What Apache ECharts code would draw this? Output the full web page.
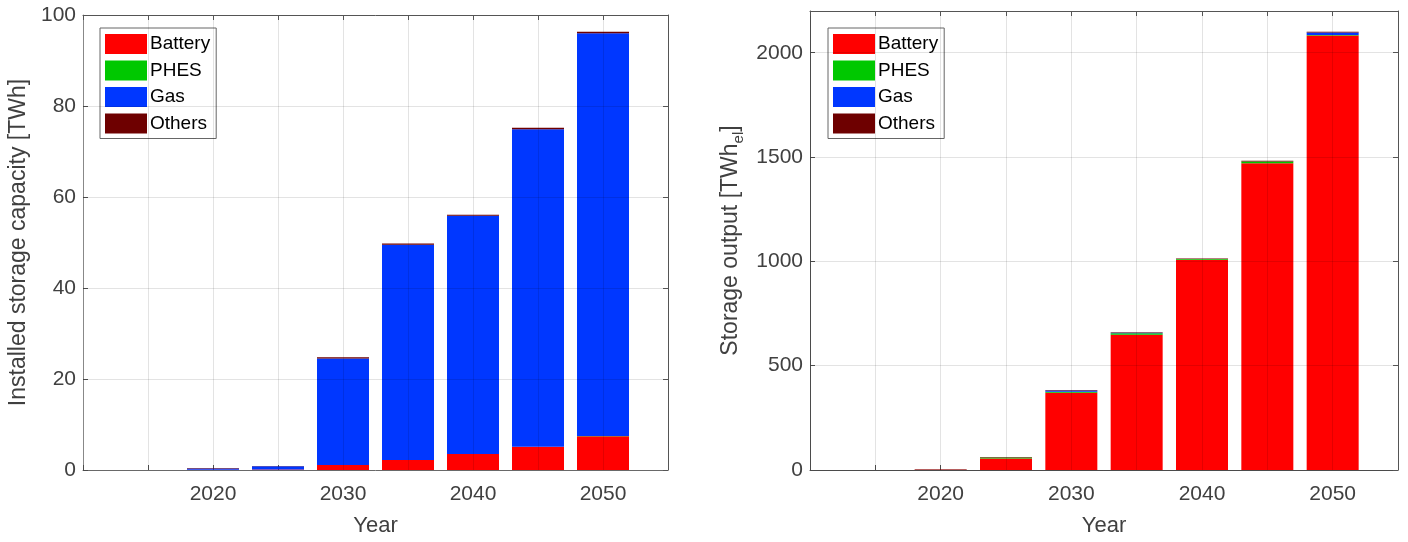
<!DOCTYPE html>
<html>
<head>
<meta charset="utf-8">
<script src="https://cdn.jsdelivr.net/npm/echarts@6/dist/echarts.min.js"></script>
<style>
  html, body { margin: 0; padding: 0; background: #fff; }
  #chart { width: 1408px; height: 542px; }
</style>
</head>
<body>
<div id="chart"></div>
<script>
// axis runs 2010..2055, bars sit on 2015..2050
const years = ['2010', '2015', '2020', '2025', '2030', '2035', '2040', '2045', '2050', '2055'];
const yearLabels = ['2020', '2030', '2040', '2050'];
const techNames = ['Battery', 'PHES', 'Gas', 'Others'];
const techColors = ['#ff0000', '#00c800', '#0037ff', '#6e0000'];

// installed storage capacity [TWh]
const capBattery = [null, 0, 0.05, 0.1, 1.1, 2.2, 3.5, 5.1, 7.4, null];
const capPhes = [null, 0, 0, 0, 0, 0, 0, 0, 0.1, null];
const capGas = [null, 0, 0.3, 0.7, 23.4, 47.3, 52.4, 69.8, 88.5, null];
const capOthers = [null, 0, 0.1, 0.1, 0.3, 0.3, 0.2, 0.3, 0.3, null];

// storage output [TWh_el]
const outBattery = [null, 0, 1, 55, 370, 648, 1008, 1470, 2082, null];
const outPhes = [null, 0, 0, 5, 5, 8, 3, 9, 3, null];
const outGas = [null, 0, 0, 0, 6, 2, 0, 0, 12, null];
const outOthers = [null, 0, 2, 2, 2, 2, 3, 3, 3, null];

const yTicksLeft = { min: 0, max: 100, interval: 20 };
const yTicksRight = { min: 0, max: 2200, interval: 500 };

const font = '"Liberation Sans", Helvetica, Arial, sans-serif';
const gridLine = { lineStyle: { color: 'rgba(0,0,0,0.11)', width: 1 } };

function xAxes(gridIndex, axisColor) {
  return [
    {
      type: 'category', gridIndex, data: years, boundaryGap: false,
      name: 'Year', nameLocation: 'middle', nameGap: 45,
      nameTextStyle: { fontFamily: font, fontSize: 22, color: '#404040' },
      axisLine: { lineStyle: { color: axisColor } },
      axisTick: { inside: true, length: 5, interval: 0, lineStyle: { color: '#555' } },
      axisLabel: {
        interval: 0, fontFamily: font, fontSize: 21, color: '#404040', margin: 14,
        formatter: (v) => (yearLabels.includes(v) ? v : ''),
      },
      splitLine: { show: false },
    },
    {
      type: 'category', gridIndex, data: years, boundaryGap: false, position: 'top', z: 5,
      axisLine: { onZero: false, lineStyle: { color: '#555' } },
      axisTick: { inside: true, length: 5, interval: 0, lineStyle: { color: '#555' } },
      axisLabel: { show: false },
      splitLine: Object.assign({ show: true, interval: 0 }, gridLine),
    },
  ];
}

function yAxes(gridIndex, ticks, name, nameGap, leftColor, rich) {
  return [
    {
      type: 'value', gridIndex, min: ticks.min, max: ticks.max, interval: ticks.interval,
      name, nameLocation: 'middle', nameGap, nameRotate: 90,
      nameTextStyle: { fontFamily: font, fontSize: 23, color: '#404040', lineHeight: rich ? 30 : 23, rich },
      axisLine: { show: true, lineStyle: { color: leftColor } },
      axisTick: { show: true, inside: true, length: 5, lineStyle: { color: '#555' } },
      axisLabel: {
        fontFamily: font, fontSize: 21, color: '#404040', margin: 7,
        formatter: (v) => (v % ticks.interval === 0 ? String(v) : ''),
      },
      splitLine: { show: false },
    },
    {
      type: 'value', gridIndex, position: 'right', min: ticks.min, max: ticks.max,
      interval: ticks.interval, z: 5,
      axisLine: { show: true, onZero: false, lineStyle: { color: '#555' } },
      axisTick: { show: true, inside: true, length: 5, lineStyle: { color: '#555' } },
      axisLabel: { show: false },
      splitLine: Object.assign({ show: true }, gridLine),
    },
  ];
}

function stackSeries(gridIdx, vals) {
  return vals.map((v, i) => ({
    name: techNames[i],
    type: 'bar',
    xAxisIndex: gridIdx * 2,
    yAxisIndex: gridIdx * 2,
    stack: 'g' + gridIdx,
    barWidth: 52,
    itemStyle: { color: techColors[i] },
    data: v,
  }));
}

function legendAt(left) {
  return {
    orient: 'vertical', left, top: 28,
    itemWidth: 42, itemHeight: 20, itemGap: 6.5,
    padding: [6, 6, 5, 5],
    borderColor: '#666', borderWidth: 1, backgroundColor: '#fff',
    icon: 'rect',
    textStyle: { fontFamily: font, fontSize: 19, color: '#000', padding: [0, 0, 0, -2] },
    data: techNames,
    selectedMode: false,
  };
}

const chart = echarts.init(document.getElementById('chart'), null, { renderer: 'canvas' });
chart.setOption({
  animation: false,
  color: techColors,
  grid: [
    { left: 83, right: 740, top: 15, bottom: 71 },
    { left: 810, right: 10, top: 11, bottom: 71 },
  ],
  xAxis: [...xAxes(0, '#777'), ...xAxes(1, '#555')],
  yAxis: [
    ...yAxes(0, yTicksLeft, 'Installed storage capacity [TWh]', 53, '#999'),
    ...yAxes(1, yTicksRight, 'Storage output [TWh{sub|el}]', 64, '#555', {
      sub: { fontFamily: font, fontSize: 15, color: '#404040', verticalAlign: 'bottom' },
    }),
  ],
  legend: [legendAt(100), legendAt(828)],
  series: [
    ...stackSeries(0, [capBattery, capPhes, capGas, capOthers]),
    ...stackSeries(1, [outBattery, outPhes, outGas, outOthers]),
  ],
});
</script>
</body>
</html>
